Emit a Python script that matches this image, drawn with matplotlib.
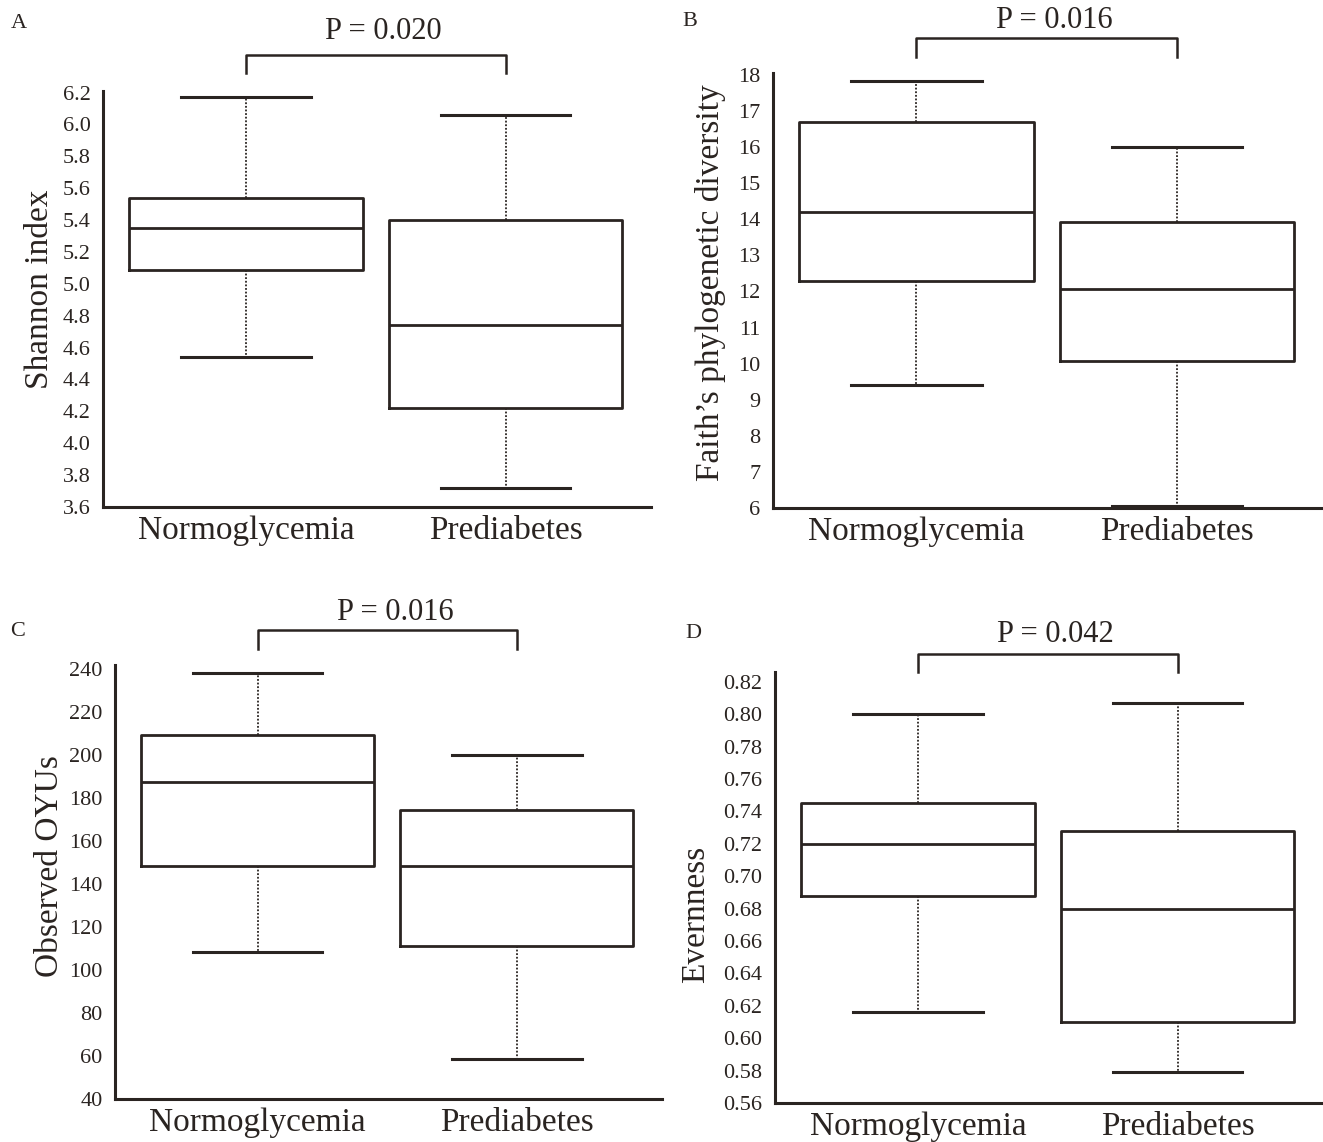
import matplotlib
matplotlib.use("Agg")
import matplotlib.pyplot as plt
import matplotlib.transforms as mtransforms

plt.rcParams['font.family'] = ['Liberation Serif', 'DejaVu Serif']

groups = ["Normoglycemia", "Prediabetes"]

# whisker low, Q1, median, Q3, whisker high per group
shannon_normo = [4.54, 5.09, 5.35, 5.54, 6.17]
shannon_pre = [3.72, 4.22, 4.74, 5.40, 6.06]
faith_normo = [9.4, 12.3, 14.2, 16.7, 17.82]
faith_pre = [6.06, 10.08, 12.07, 13.92, 16.0]
otus_normo = [108.2, 148.2, 187.4, 209.2, 238.3]
otus_pre = [58.7, 111.3, 148.2, 174.3, 200.0]
even_normo = [0.616, 0.688, 0.720, 0.745, 0.800]
even_pre = [0.579, 0.610, 0.680, 0.7276, 0.807]

p_values = ["P = 0.020", "P = 0.016", "P = 0.016", "P = 0.042"]
panel_letters = ["A", "B", "C", "D"]
y_labels = ["Shannon index", "Faith\u2019s phylogenetic diversity", "Observed OYUs", "Evernness"]

shannon_ticks = [3.6, 3.8, 4.0, 4.2, 4.4, 4.6, 4.8, 5.0, 5.2, 5.4, 5.6, 5.8, 6.0, 6.2]
faith_ticks = list(range(6, 19))
otus_ticks = list(range(40, 241, 20))
even_ticks = [0.56, 0.58, 0.60, 0.62, 0.64, 0.66, 0.68, 0.70, 0.72, 0.74, 0.76, 0.78, 0.80, 0.82]

INK = "#2a2421"
W, H = 1323, 1142


def make_stats(vals):
    lo, q1, med, q3, hi = vals
    return {"whislo": lo, "q1": q1, "med": med, "q3": q3, "whishi": hi, "fliers": []}


def px_rect(left, right, top, bottom):
    return [left / W, 1 - bottom / H, (right - left) / W, (bottom - top) / H]


def draw_panel(fig, rect, series, ticks, ylim, tick_fmt, letter, letter_xy, ylabel, ylabel_xy,
               pval, bracket_y, legs_y, text_y):
    ax = fig.add_axes(rect)
    stats = [make_stats(s) for s in series]
    ax.bxp(stats, positions=[1, 2], widths=0.9, showfliers=False, capwidths=0.5,
           boxprops=dict(color=INK, linewidth=2.0),
           medianprops=dict(color=INK, linewidth=2.0),
           whiskerprops=dict(color=INK, linewidth=1.3, linestyle=(0, (1.0, 1.0))),
           capprops=dict(color=INK, linewidth=2.2))
    ax.set_xlim(0.45, 2.56)
    ax.set_ylim(*ylim)
    ax.set_yticks(ticks)
    ax.set_yticklabels([tick_fmt.format(t) for t in ticks], fontsize=16, color=INK)
    ax.set_xticks([1, 2])
    ax.set_xticklabels(groups, fontsize=24, color=INK)
    ax.tick_params(axis='y', length=0, pad=9)
    ax.tick_params(axis='x', length=0, pad=6)
    for side in ["top", "right"]:
        ax.spines[side].set_visible(False)
    for side in ["left", "bottom"]:
        ax.spines[side].set_color(INK)
        ax.spines[side].set_linewidth(2.2)

    # significance bracket
    trans = mtransforms.blended_transform_factory(ax.transData, ax.transAxes)
    ax.plot([1, 1, 2, 2], [legs_y, bracket_y, bracket_y, legs_y], color=INK, lw=1.8,
            transform=trans, clip_on=False)
    ax.text(1.53, text_y, pval, transform=trans, ha='center', va='center', fontsize=22, color=INK)

    fig.text(letter_xy[0] / W, 1 - letter_xy[1] / H, letter, fontsize=16, color=INK,
             ha='center', va='center')
    fig.text(ylabel_xy[0] / W, 1 - ylabel_xy[1] / H, ylabel, fontsize=24, color=INK,
             rotation=90, ha='center', va='center')
    return ax


fig = plt.figure(figsize=(13.23, 11.42), dpi=100)

draw_panel(fig, px_rect(103, 651, 91, 507), [shannon_normo, shannon_pre], shannon_ticks,
           (3.6, 6.21), "{:.1f}", "A", (19, 24), y_labels[0], (40, 289),
           p_values[0], 1.086, 1.043, 1.142)
draw_panel(fig, px_rect(773, 1323, 73, 508), [faith_normo, faith_pre], faith_ticks,
           (6, 18.05), "{:d}", "B", (690, 21), y_labels[1], (711, 283),
           p_values[1], 1.080, 1.037, 1.12)
draw_panel(fig, px_rect(115, 662, 665, 1099), [otus_normo, otus_pre], otus_ticks,
           (40, 241.9), "{:d}", "C", (18, 632), y_labels[2], (50, 866),
           p_values[2], 1.081, 1.038, 1.122)
draw_panel(fig, px_rect(775, 1323, 672, 1103), [even_normo, even_pre], even_ticks,
           (0.56, 0.826), "{:.2f}", "D", (693, 633), y_labels[3], (696, 914),
           p_values[3], 1.041, 1.0, 1.086)

fig.savefig("out.png", dpi=100, facecolor="white")
